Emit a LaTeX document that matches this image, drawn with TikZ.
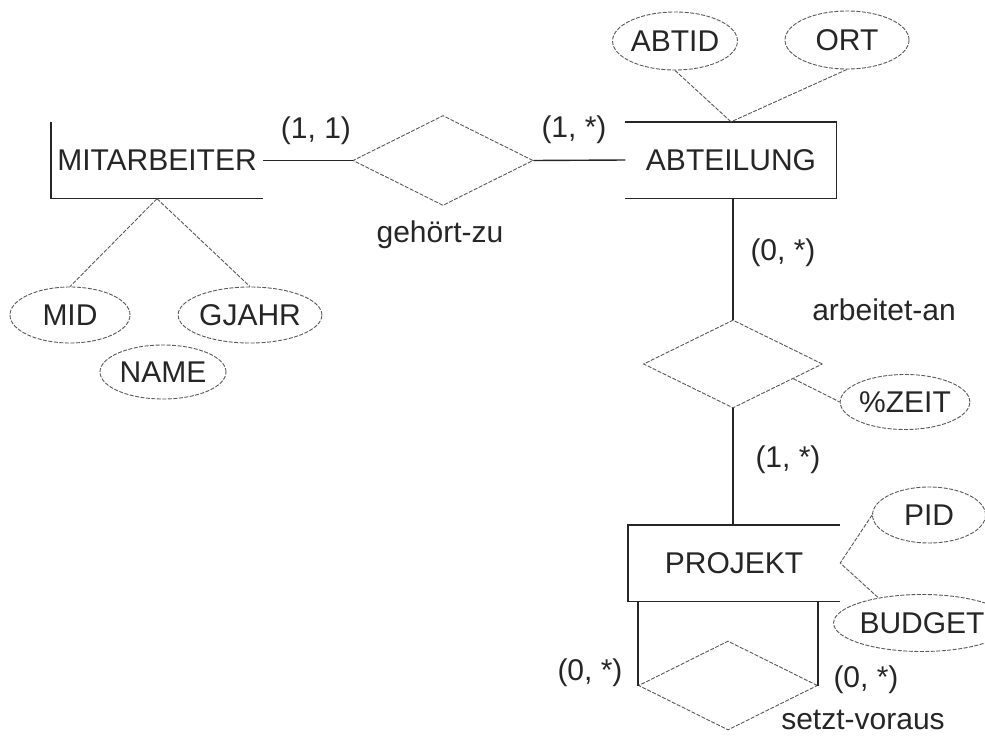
\documentclass[tikz,border=0pt]{standalone}
\usepackage{fontspec}
\setmainfont{Liberation Sans}
\usetikzlibrary{shapes.geometric,calc}
\begin{document}
\begin{tikzpicture}[x=1pt,y=-1pt,
  every node/.style={font=\fontsize{30}{35}\selectfont, inner sep=0pt, text=black!85},
  ent/.style={rectangle, minimum width=212pt, minimum height=76pt},
  attr/.style={ellipse, draw=gray!70!black, line width=0.9pt, dash pattern=on 4pt off 1.5pt},
  rel/.style={diamond, draw=gray!70!black, line width=0.9pt, dash pattern=on 4pt off 1.5pt, minimum width=180pt, minimum height=90pt},
  sline/.style={black!85, line width=1.4pt},
  aline/.style={gray!70!black, line width=0.9pt, dash pattern=on 4pt off 1.5pt}]
\clip (0,0) rectangle (985,744);
\fill[white] (0,0) rectangle (985,744);

% entities
\node[ent] (mit) at (157,160.5) {MITARBEITER};
\node[ent, minimum width=211pt] (abt) at (731,160) {ABTEILUNG};
\node[ent] (proj) at (734,563) {PROJEKT};

% relationships
\node[rel] (gz) at (443,160.5) {};
\node[rel, minimum width=179pt, minimum height=88pt] (aa) at (733,364) {};
\node[rel, minimum width=179pt, minimum height=89pt] (sv) at (728,685.5) {};

% attributes
\node[attr, minimum width=124pt, minimum height=58pt] (abtid) at (675,41) {ABTID};
\node[attr, minimum width=124pt, minimum height=58pt] (ort) at (847,40) {ORT};
\node[attr, minimum width=120pt, minimum height=56pt] (mid) at (70,315) {MID};
\node[attr, minimum width=125pt, minimum height=56pt] (gjahr) at (250,315) {GJAHR};
\node[attr, minimum width=126pt, minimum height=54pt] (name) at (163,372) {NAME};
\node[attr, minimum width=114pt, minimum height=55pt] (zeit) at (905,402) {\%ZEIT};
\node[attr, minimum width=113pt, minimum height=56pt] (pid) at (929,515) {PID};
\node[attr, minimum width=152pt, minimum height=57pt] (budget) at (922,623) {BUDGET};

% entity borders (partial)
\draw[sline] (mit.north west) -- (mit.south west) -- (mit.south east);
\draw[sline] (abt.north west) -- (abt.north east) -- (abt.south east) -- (abt.south west);
\draw[sline] (proj.north east) -- (proj.north west) -- (proj.south west) -- (proj.south east);

% relationship connectors
\draw[sline] (mit.east) -- (gz.west);
\draw[sline] (gz.east) -- (abt.west);
\draw[sline] (aa.north |- abt.south) -- (aa.north);
\draw[sline] (aa.south) -- (aa.south |- proj.north);
\draw[sline] (sv.west |- proj.south) -- (sv.west);
\draw[sline] (sv.east |- proj.south) -- (sv.east);

% attribute connectors
\draw[aline] (abtid.south) -- (abt.north);
\draw[aline] (ort.south) -- (abt.north);
\draw[aline] (mit.south) -- (mid.north);
\draw[aline] (mit.south) -- (gjahr.north);
\draw[aline] ($(aa.east)!0.33!(aa.south)$) -- (zeit.west);
\draw[aline] (pid.west) -- (proj.east) -- (budget.150);

% labels
\node (l11) at (316,131) {(1, 1)};
\node (l1s) at (574,130) {(1, *)};
\node (lgz) at (440,235) {gehört-zu};
\node (l0s) at (783,253) {(0, *)};
\node (laa) at (884,310) {arbeitet-an};
\node (l1s2) at (788,460) {(1, *)};
\node (l0sl) at (590,673) {(0, *)};
\node (l0sr) at (866,680) {(0, *)};
\node (lsv) at (863,720) {setzt-voraus};
\end{tikzpicture}
\end{document}
